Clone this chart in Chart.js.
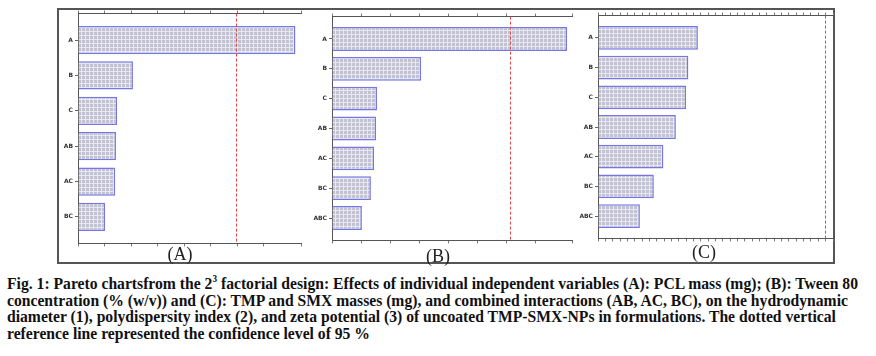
<!DOCTYPE html>
<html><head><meta charset="utf-8">
<script src="https://cdn.jsdelivr.net/npm/chart.js@4"></script>
<style>
body{margin:0;background:#fff;width:876px;height:356px;position:relative;overflow:hidden;}
#frame{position:absolute;left:57px;top:8px;width:778px;height:256px;border:2px solid #555;box-sizing:border-box;}
canvas{position:absolute;}
.plab{position:absolute;font-family:"Liberation Serif","Times New Roman",serif;font-size:18px;line-height:20px;color:#222;transform:translateX(-50%);}
#cap{position:absolute;left:7px;top:276px;font-family:"Liberation Serif","Times New Roman",serif;font-weight:700;font-size:17px;line-height:16.5px;color:#111;white-space:nowrap;}
#cap div{transform-origin:0 0;height:16.5px;font-family:"Liberation Serif","Times New Roman",serif;}
#cap sup{font-size:10px;vertical-align:7px;line-height:0;}
</style>
</head><body>
<div id="frame"></div>
<canvas id="cA"></canvas>
<canvas id="cB"></canvas>
<canvas id="cC"></canvas>
<div class="plab" style="left:180px;top:244px;">(A)</div>
<div class="plab" style="left:438px;top:246px;">(B)</div>
<div class="plab" style="left:704px;top:242px;">(C)</div>
<div id="cap">
<div>Fig. 1: Pareto chartsfrom the 2<sup>3</sup> factorial design: Effects of individual independent variables (A): PCL mass (mg); (B): Tween 80</div>
<div>concentration (% (w/v)) and (C): TMP and SMX masses (mg), and combined interactions (AB, AC, BC), on the hydrodynamic</div>
<div>diameter (1), polydispersity index (2), and zeta potential (3) of uncoated TMP-SMX-NPs in formulations. The dotted vertical</div>
<div>reference line represented the confidence level of 95 %</div>
</div>
<script>
// ---- data ----
const labelsA = ['A','B','C','AB','AC','BC'];
const effectsA = [8.19, 2.07, 1.47, 1.43, 1.40, 1.02];
const refA = 5.96;

const labelsB = ['A','B','C','AB','AC','BC','ABC'];
const effectsB = [8.10, 3.07, 1.55, 1.52, 1.45, 1.34, 1.03];
const refB = 6.14;

const labelsC = ['A','B','C','AB','AC','BC','ABC'];
const effectsC = [13.6, 12.3, 12.0, 10.6, 8.9, 7.6, 5.7];
const refC = 30.9;

// ---- caption width fit ----
const capLines = document.querySelectorAll('#cap div');
const probe = document.createElement('span');
probe.style.cssText = 'position:absolute;visibility:hidden;white-space:nowrap;';
document.getElementById('cap').appendChild(probe);
probe.innerHTML = capLines[0].innerHTML;
const sx = 851 / probe.getBoundingClientRect().width;
probe.remove();
capLines.forEach(d => d.style.transform = 'scaleX(' + sx + ')');

function hatch(){
  const c = document.createElement('canvas'); c.width = 4; c.height = 4;
  const g = c.getContext('2d');
  g.fillStyle = '#c2c2d2'; g.fillRect(0,0,4,4);
  g.fillStyle = '#e8e8f0'; g.fillRect(0,3,4,1); g.fillRect(3,0,1,4);
  return g.createPattern(c, 'repeat');
}

const refLine = {
  id: 'refLine',
  afterDatasetsDraw(chart, args, opts){
    const {ctx, chartArea, scales} = chart;
    const x = Math.round(scales.x.getPixelForValue(opts.value)) + 0.5;
    ctx.save();
    ctx.strokeStyle = '#e04848'; ctx.lineWidth = 1; ctx.setLineDash([3,2]);
    ctx.beginPath(); ctx.moveTo(x, chartArea.top); ctx.lineTo(x, chartArea.bottom); ctx.stroke();
    ctx.restore();
  }
};

function make(id, area, labels, values, ref, xmax, step){
  const yW = 24, tH = 5, bH = 5;
  const cv = document.getElementById(id);
  const w = area.right - area.left + yW + 3;
  const h = area.bottom - area.top + tH + bH;
  cv.width = w; cv.height = h;
  cv.style.left = (area.left - yW) + 'px';
  cv.style.top = (area.top - tH) + 'px';
  cv.style.width = w + 'px'; cv.style.height = h + 'px';
  const xAxis = (pos, hgt) => ({
    type: 'linear', position: pos, min: 0, max: xmax, offset: false,
    ticks: {display: false, stepSize: step},
    grid: {drawOnChartArea: false, tickLength: 3, color: '#777', offset: false},
    border: {color: '#555', width: 1},
    afterFit(s){ s.height = hgt; }
  });
  new Chart(cv, {
    type: 'bar',
    data: {datasets: [{
      data: values.map((v, i) => ({x: v, y: i})),
      backgroundColor: hatch(),
      borderColor: '#7676e4',
      borderWidth: 1.5,
      categoryPercentage: 1,
      barPercentage: 0.8
    }]},
    options: {
      indexAxis: 'y', responsive: false, animation: false, devicePixelRatio: 1,
      layout: {padding: {left: 0, right: 3, top: 0, bottom: 0}},
      plugins: {legend: {display: false}, tooltip: {enabled: false}, refLine: {value: ref}},
      scales: {
        x: xAxis('bottom', bH),
        x2: xAxis('top', tH),
        y: {
          type: 'linear', reverse: true, min: -0.75, max: labels.length - 0.25, offset: false,
          afterBuildTicks(s){ s.ticks = labels.map((_, i) => ({value: i})); },
          ticks: {callback: v => labels[v] ?? '', font: {size: 6, weight: 'bold', family: 'DejaVu Sans'}, color: '#333', padding: 2, autoSkip: false},
          grid: {drawOnChartArea: false, tickLength: 3, color: '#666', offset: false},
          border: {color: '#555', width: 1},
          afterFit(s){ s.width = yW; }
        }
      }
    },
    plugins: [refLine]
  });
}

make('cA', {left: 78, top: 13, right: 301, bottom: 244}, labelsA, effectsA, refA, 8.4, 1);
make('cB', {left: 332, top: 16, right: 572, bottom: 241}, labelsB, effectsB, refB, 8.27, 1);
make('cC', {left: 598, top: 15, right: 833, bottom: 239}, labelsC, effectsC, refC, 32, 1);
</script>
</body></html>
